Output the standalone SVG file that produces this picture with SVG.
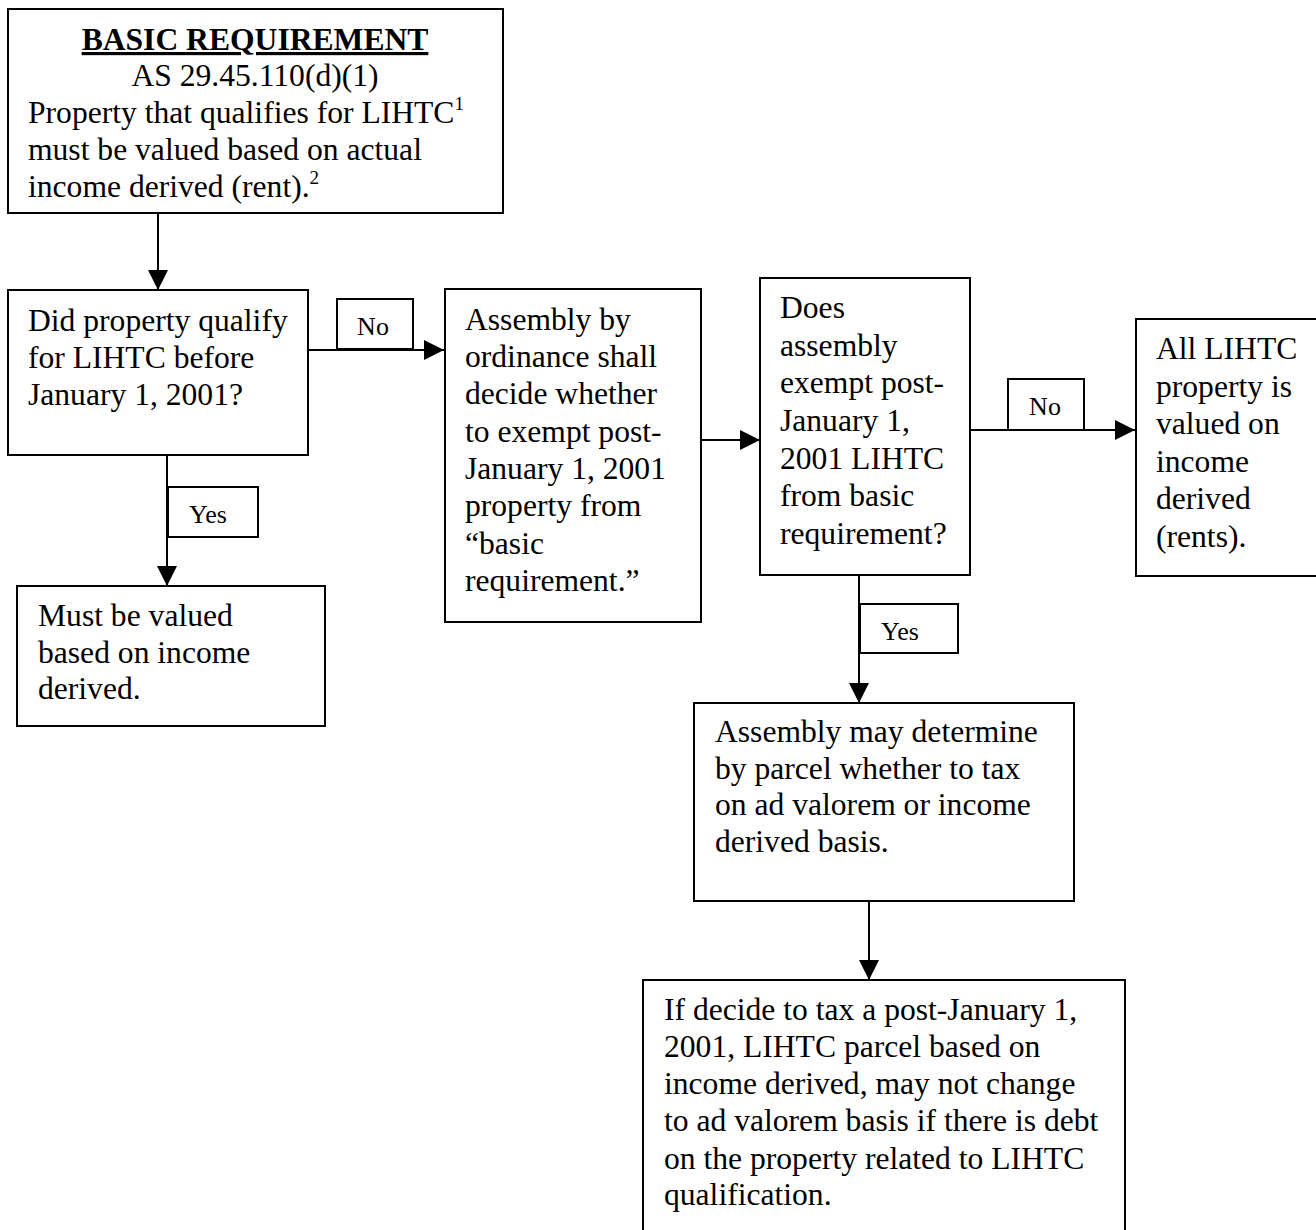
<svg xmlns="http://www.w3.org/2000/svg" width="1316" height="1230" viewBox="0 0 1316 1230">
<style>
.box{fill:#fff;stroke:#000;stroke-width:2}
.lbl{fill:#fff;stroke:#000;stroke-width:2}
.t{font-family:"Liberation Serif","Times New Roman",serif;font-size:31.6px;fill:#000}
.s{font-family:"Liberation Serif","Times New Roman",serif;font-size:26px;fill:#000}
.c{text-anchor:middle}
.ln{stroke:#000;stroke-width:2;fill:none}
</style>
<defs>
<marker id="ah" viewBox="0 0 20 20" refX="20" refY="10" markerWidth="20" markerHeight="20" markerUnits="userSpaceOnUse" orient="auto">
<path d="M0,0 L20,10 L0,20 Z" fill="#000"/>
</marker>
</defs>
<rect width="1316" height="1230" fill="#fff"/>
<g id="connectors">
<line class="ln" x1="158" y1="213" x2="158" y2="290" marker-end="url(#ah)"/>
<line class="ln" x1="308" y1="350" x2="444" y2="350" marker-end="url(#ah)"/>
<line class="ln" x1="167" y1="455" x2="167" y2="586" marker-end="url(#ah)"/>
<line class="ln" x1="701" y1="440" x2="760" y2="440" marker-end="url(#ah)"/>
<line class="ln" x1="970" y1="430" x2="1135" y2="430" marker-end="url(#ah)"/>
<line class="ln" x1="859" y1="575" x2="859" y2="703" marker-end="url(#ah)"/>
<line class="ln" x1="869" y1="901" x2="869" y2="980" marker-end="url(#ah)"/>
<g id="lbl-no1"><rect class="lbl" x="337" y="299" width="76" height="50"/><text class="s c" x="373" y="335">No</text></g>
<g id="lbl-yes1"><rect class="lbl" x="168" y="487" width="90" height="50"/><text class="s c" x="208" y="523">Yes</text></g>
<g id="lbl-no2"><rect class="lbl" x="1008" y="379" width="76" height="51"/><text class="s c" x="1045" y="415">No</text></g>
<g id="lbl-yes2"><rect class="lbl" x="860" y="604" width="98" height="49"/><text class="s c" x="900" y="640">Yes</text></g>
</g>
<g id="n1">
<rect class="box" x="8" y="9" width="495" height="204"/>
<text class="t c" x="255" y="50" font-weight="bold" text-decoration="underline">BASIC REQUIREMENT</text>
<text class="t c" x="255" y="86">AS 29.45.110(d)(1)</text>
<text class="t" x="28" y="123">Property that qualifies for LIHTC<tspan font-size="19" dy="-13">1</tspan></text>
<text class="t" x="28" y="160">must be valued based on actual</text>
<text class="t" x="28" y="197">income derived (rent).<tspan font-size="19" dy="-13">2</tspan></text>
</g>
<g id="n2">
<rect class="box" x="8" y="290" width="300" height="165"/>
<text class="t" x="28" y="331">Did property qualify</text>
<text class="t" x="28" y="368">for LIHTC before</text>
<text class="t" x="28" y="405">January 1, 2001?</text>
</g>
<g id="n3">
<rect class="box" x="445" y="289" width="256" height="333"/>
<text class="t" x="465" y="330">Assembly by</text>
<text class="t" x="465" y="367">ordinance shall</text>
<text class="t" x="465" y="404">decide whether</text>
<text class="t" x="465" y="442">to exempt post-</text>
<text class="t" x="465" y="479">January 1, 2001</text>
<text class="t" x="465" y="516">property from</text>
<text class="t" x="465" y="554">“basic</text>
<text class="t" x="465" y="591">requirement.”</text>
</g>
<g id="n4">
<rect class="box" x="17" y="586" width="308" height="140"/>
<text class="t" x="38" y="626">Must be valued</text>
<text class="t" x="38" y="663">based on income</text>
<text class="t" x="38" y="699">derived.</text>
</g>
<g id="n5">
<rect class="box" x="760" y="278" width="210" height="297"/>
<text class="t" x="780" y="318">Does</text>
<text class="t" x="780" y="356">assembly</text>
<text class="t" x="780" y="393">exempt post-</text>
<text class="t" x="780" y="431">January 1,</text>
<text class="t" x="780" y="469">2001 LIHTC</text>
<text class="t" x="780" y="506">from basic</text>
<text class="t" x="780" y="544">requirement?</text>
</g>
<g id="n6">
<rect class="box" x="1136" y="319" width="200" height="257"/>
<text class="t" x="1156" y="359">All LIHTC</text>
<text class="t" x="1156" y="397">property is</text>
<text class="t" x="1156" y="434">valued on</text>
<text class="t" x="1156" y="472">income</text>
<text class="t" x="1156" y="509">derived</text>
<text class="t" x="1156" y="547">(rents).</text>
</g>
<g id="n7">
<rect class="box" x="694" y="703" width="380" height="198"/>
<text class="t" x="715" y="742">Assembly may determine</text>
<text class="t" x="715" y="779">by parcel whether to tax</text>
<text class="t" x="715" y="815">on ad valorem or income</text>
<text class="t" x="715" y="852">derived basis.</text>
</g>
<g id="n8">
<rect class="box" x="643" y="980" width="482" height="270"/>
<text class="t" x="664" y="1020">If decide to tax a post-January 1,</text>
<text class="t" x="664" y="1057">2001, LIHTC parcel based on</text>
<text class="t" x="664" y="1094">income derived, may not change</text>
<text class="t" x="664" y="1131">to ad valorem basis if there is debt</text>
<text class="t" x="664" y="1169">on the property related to LIHTC</text>
<text class="t" x="664" y="1205">qualification.</text>
</g>
</svg>
